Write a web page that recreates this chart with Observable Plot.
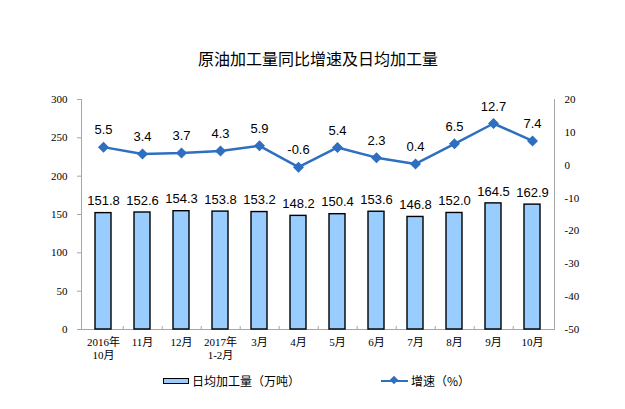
<!DOCTYPE html>
<html>
<head>
<meta charset="utf-8">
<script src="https://cdn.jsdelivr.net/npm/d3@7"></script>
<script src="https://cdn.jsdelivr.net/npm/@observablehq/plot@0.6"></script>
<style>
  body { margin: 0; background: #fff; }
  #wrap { position: relative; width: 625px; height: 409px; overflow: hidden; }
  #title { position: absolute; left: 0; top: 47px; width: 636px; text-align: center;
           font: 16px "Noto Sans CJK SC", sans-serif; color: #000; line-height: 22px; }
  #chart { position: absolute; left: 0; top: 80px; }
  .leg { position: absolute; top: 373px; font: 12px "Noto Sans CJK SC", sans-serif; color: #000;
         display: flex; align-items: center; line-height: 16px; }
  .sw-bar { width: 24px; height: 4px; background: #99ccff; border: 1px solid #000; margin-right: 3px; }
  .sw-line { position: relative; width: 27px; height: 2px; background: #2e6fc0; margin-right: 3px; }
  .sw-line::after { content: ""; position: absolute; left: 10px; top: -3px; width: 6px; height: 6px;
                    background: #2e6fc0; transform: rotate(45deg); }
</style>
</head>
<body>
<div id="wrap">
  <div id="title">原油加工量同比增速及日均加工量</div>
  <div id="chart"></div>
  <div class="leg" style="left:163px"><span class="sw-bar"></span>日均加工量（万吨）</div>
  <div class="leg" style="left:381px"><span class="sw-line"></span>增速（%）</div>
</div>
<script>
const categories = ["2016年\n10月","11月","12月","2017年\n1-2月","3月","4月","5月","6月","7月","8月","9月","10月"];
const dailyOutput = [151.8,152.6,154.3,153.8,153.2,148.2,150.4,153.6,146.8,152.0,164.5,162.9];
const growthRate = [5.5,3.4,3.7,4.3,5.9,-0.6,5.4,2.3,0.4,6.5,12.7,7.4];
const leftTicks = [0,50,100,150,200,250,300];
const rightTicks = [-50,-40,-30,-20,-10,0,10,20];

const leftMax = 300, rMin = -50, rMax = 20;
const toLeft = g => (g - rMin) * leftMax / (rMax - rMin);
const toRight = v => Math.round(v * (rMax - rMin) / leftMax + rMin);

const rows = categories.map((c, i) => ({cat: c, daily: dailyOutput[i], growth: growthRate[i], gy: toLeft(growthRate[i])}));

const blue = "#2e6fc0";
const axisGray = "#a6a6a6";
const serif = "'Liberation Serif','Times New Roman','Noto Sans CJK SC',serif";
const sans = "'Liberation Sans',Arial,sans-serif";
const W = 625, ML = 81, MR = 71;
const halfStep = (W - ML - MR) / categories.length / 2;

const chart = Plot.plot({
  width: W,
  height: 290,
  marginLeft: ML,
  marginRight: MR,
  marginTop: 19,
  marginBottom: 41,
  style: {fontFamily: serif, fontSize: "11px", color: "#000", background: "transparent"},
  x: {domain: categories, paddingInner: 0.6, paddingOuter: 0.3},
  y: {domain: [0, leftMax]},
  marks: [
    Plot.frame({anchor: "left", stroke: axisGray}),
    Plot.frame({anchor: "right", stroke: axisGray}),
    Plot.ruleY([0], {stroke: axisGray}),
    Plot.ruleX(categories.slice(0, -1), {x: d => d, dx: halfStep, y1: 0, y2: 0, insetTop: -3, stroke: axisGray}),
    Plot.axisY(leftTicks, {anchor: "left", label: null, tickSize: 4, tickPadding: 10, stroke: axisGray, fill: "#000", fontFamily: serif, fontSize: 11}),
    Plot.axisY(rightTicks.map(toLeft), {anchor: "right", label: null, tickSize: 0, tickPadding: 10, tickFormat: toRight, fill: "#000", fontFamily: serif, fontSize: 11, textAnchor: "start"}),
    Plot.axisX({anchor: "bottom", label: null, tickSize: 0, tickPadding: 8, fill: "#000", fontFamily: serif, fontSize: 11, lineHeight: 1.15}),
    Plot.barY(rows, {x: "cat", y: "daily", fill: "#99ccff", stroke: "#000", strokeWidth: 1.4}),
    Plot.text(rows, {x: "cat", y: "daily", text: d => d.daily.toFixed(1), dy: -12, fontSize: 13, fontFamily: sans, fill: "#000"}),
    Plot.line(rows, {x: "cat", y: "gy", stroke: blue, strokeWidth: 2.5}),
    Plot.dot(rows, {x: "cat", y: "gy", symbol: "diamond2", r: 4, fill: blue, stroke: blue}),
    Plot.text(rows, {x: "cat", y: "gy", text: d => d.growth.toFixed(1), dy: -17, fontSize: 13, fontFamily: sans, fill: "#000"})
  ]
});
document.getElementById("chart").appendChild(chart);
</script>
</body>
</html>
